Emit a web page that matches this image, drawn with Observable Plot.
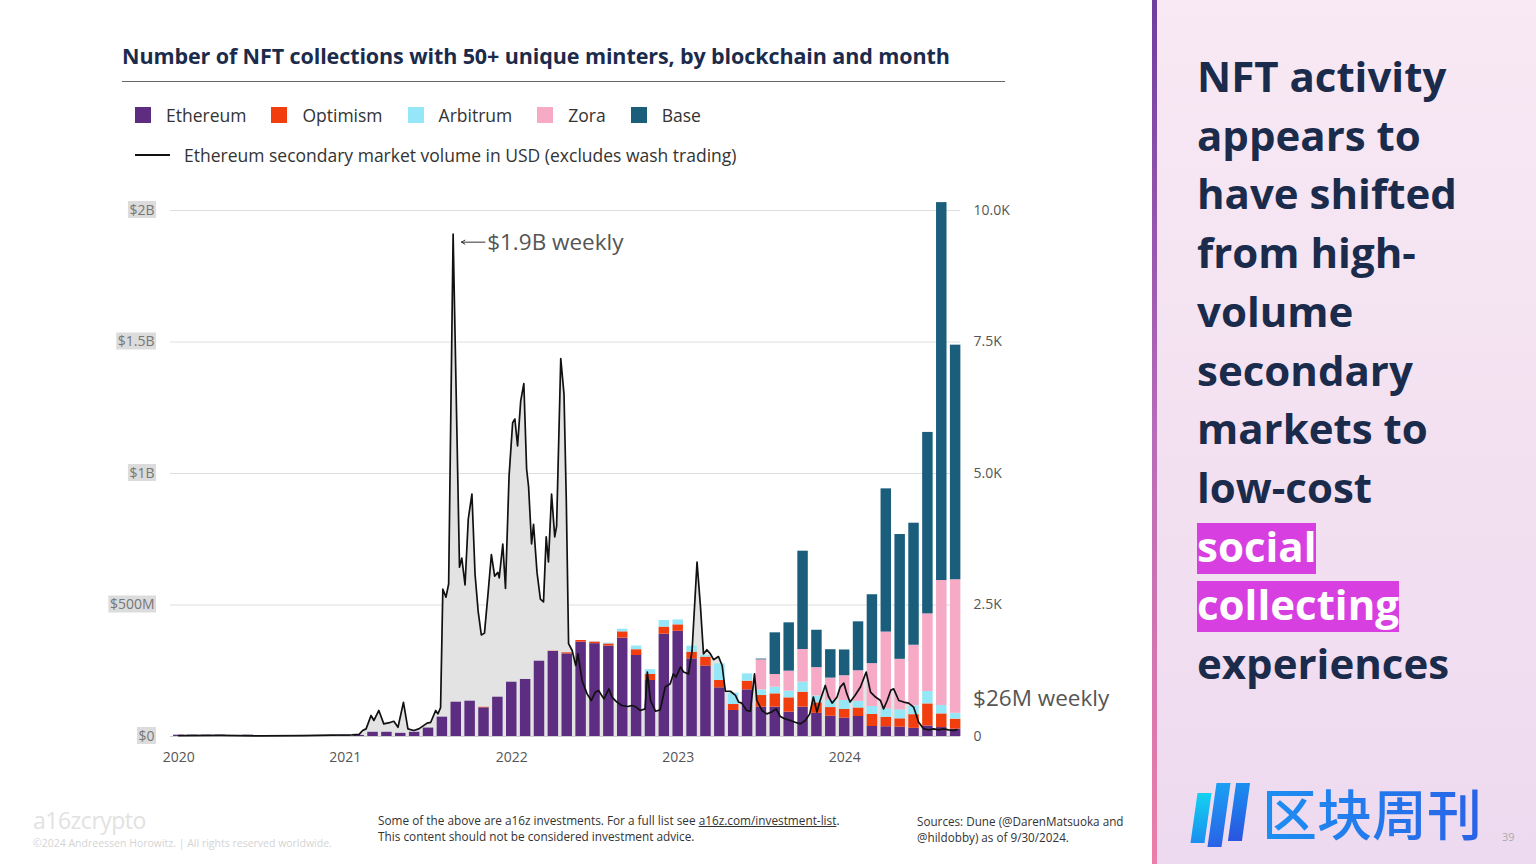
<!DOCTYPE html>
<html>
<head>
<meta charset="utf-8">
<script src="https://cdn.jsdelivr.net/npm/d3@7"></script>
<script src="https://cdn.jsdelivr.net/npm/@observablehq/plot@0.6"></script>
<style>
html,body{margin:0;padding:0;width:1536px;height:864px;overflow:hidden;background:#fff;font-family:"Open Sans",sans-serif;}
#page{position:relative;width:1536px;height:864px;}
#title{position:absolute;left:122px;top:41px;font-size:21.5px;font-weight:700;color:#1b2b4b;white-space:nowrap;letter-spacing:-0.1px;}
#rule{position:absolute;left:122px;top:81px;width:883px;height:1px;background:#666;}
#legend1{position:absolute;left:135px;top:103px;display:flex;align-items:center;font-size:17.5px;color:#333;white-space:nowrap;}
#legend1 .sw{width:16px;height:16px;margin-right:15px;}
#legend1 .lb{margin-right:25px;}
#legend2{position:absolute;left:135px;top:143px;display:flex;align-items:center;font-size:17.5px;color:#333;white-space:nowrap;}
#legend2 .ln{width:35px;height:2.5px;background:#111;margin-right:14px;}
#chart{position:absolute;left:90px;top:190px;}
#foot1{position:absolute;left:378px;top:812px;font-size:11.8px;line-height:16px;color:#333;}
#foot1 u{text-decoration:underline;}
#foot2{position:absolute;left:917px;top:813px;font-size:11.7px;line-height:16px;color:#333;}
#brand{position:absolute;left:33px;top:804px;font-size:23px;color:#e2e2e2;letter-spacing:-0.5px;}
#copy{position:absolute;left:33px;top:836px;font-size:10.5px;color:#d4d4d4;white-space:nowrap;}
#panel{position:absolute;left:1152px;top:0;width:384px;height:864px;background:linear-gradient(180deg,#f8e9f4 0%,#f3e1f1 50%,#eedaf0 100%);}
#edge{position:absolute;left:0;top:0;width:5px;height:864px;background:linear-gradient(180deg,#6e3e9e 0%,#b86bb8 50%,#ec7fa8 100%);}
#headline{position:absolute;left:45px;top:47px;font-size:42px;font-weight:700;line-height:58.7px;color:#1b2b4b;white-space:nowrap;}
#headline .hl{color:#fff;background:linear-gradient(180deg,transparent 6px,#d83fe0 6px);}
#logo{position:absolute;left:110px;top:780px;font-family:"Noto Sans CJK SC",sans-serif;font-size:55px;font-weight:500;line-height:62px;background:linear-gradient(90deg,#1c8ff2,#2a63e6);-webkit-background-clip:text;background-clip:text;color:transparent;white-space:nowrap;}
#icon{position:absolute;left:40px;top:783px;width:60px;height:64px;}
#icon div{position:absolute;top:0;height:64px;width:14px;transform:skewX(-8deg);}
#pnum{position:absolute;left:350px;top:829px;font-size:11px;color:#aaa;}
</style>
</head>
<body>
<div id="page">
  <div id="title">Number of NFT collections with 50+ unique minters, by blockchain and month</div>
  <div id="rule"></div>
  <div id="legend1"></div>
  <div id="legend2"><div class="ln"></div><span id="lineLabel"></span></div>
  <div id="chart"></div>
  <div id="brand">a16zcrypto</div>
  <div id="copy">©2024 Andreessen Horowitz. | All rights reserved worldwide.</div>
  <div id="foot1">Some of the above are a16z investments. For a full list see <u>a16z.com/investment-list</u>.<br>This content should not be considered investment advice.</div>
  <div id="foot2">Sources: Dune (@DarenMatsuoka and<br>@hildobby) as of 9/30/2024.</div>
  <div id="panel">
    <div id="edge"></div>
    <div id="headline">NFT activity<br>appears to<br>have shifted<br>from high-<br>volume<br>secondary<br>markets to<br>low-cost<br><span class="hl">social</span><br><span class="hl">collecting</span><br>experiences</div>
    <div id="icon">
      <div style="left:2px;background:linear-gradient(180deg,#14d2f0,#1a8ef0);height:50px;top:10px;"></div>
      <div style="left:20px;background:linear-gradient(180deg,#1aa0f4,#2a62e6);"></div>
      <div style="left:40px;background:linear-gradient(180deg,#1a8ef0,#2a55e0);height:58px;"></div>
    </div>
    <div id="logo">区块周刊</div>
    <div id="pnum">39</div>
  </div>
</div>
<script>
// ---------- DATA ----------
const chains = ["Ethereum", "Optimism", "Arbitrum", "Zora", "Base"];
const chainColors = ["#5c2d80", "#f23e0e", "#95e7f7", "#f6aac6", "#1b5e7c"];

// monthly counts, Jan 2020 .. Sep 2024
const ethereum = [25,25,25,25,0,25,0,0,0,20,20,20,
  20,20,80,80,60,80,160,367,652,671,545,747,
  1032,1084,1431,1616,1570,1793,1765,1720,1870,1540,1065,1945,
  2000,1476,1337,925,494,887,558,558,463,558,440,385,
  350,380,190,185,177,155,200,170,140];
const optimism = [0,0,0,0,0,0,0,0,0,0,0,0,
  0,0,0,0,0,0,0,0,0,0,10,0,
  0,0,0,5,20,32,30,40,120,110,115,135,
  123,127,171,140,114,165,221,253,272,285,200,165,
  165,162,230,180,159,260,420,260,190];
const arbitrum = [0,0,0,0,0,0,0,0,0,0,0,0,
  0,0,0,0,0,0,0,0,0,0,0,0,
  0,0,0,0,0,0,5,15,50,70,90,125,
  92,114,32,316,216,139,108,127,127,190,130,140,
  170,128,150,160,171,170,236,160,110];
const zora = [0,0,0,0,0,0,0,0,0,0,0,0,
  0,0,0,0,0,0,0,0,0,0,0,0,
  0,0,0,0,0,0,0,0,0,0,0,0,
  0,0,0,0,0,0,570,241,380,621,540,420,
  470,580,815,1460,960,1150,1475,2375,2540];
const base = [0,0,0,0,0,0,0,0,0,0,0,0,
  0,0,0,0,0,0,0,0,0,0,0,0,
  0,0,0,0,0,0,0,0,0,0,0,0,
  0,0,0,0,0,0,15,792,919,1869,710,540,
  490,930,1310,2723,2373,2320,3450,7185,4460];

// Ethereum secondary market volume (weekly, USD millions)
const volDates = ["2020-01-01","2020-04-01","2020-07-01","2020-10-01","2020-12-01","2021-01-16","2021-02-01",
 "2021-02-08","2021-02-15","2021-02-25","2021-03-03","2021-03-14","2021-03-25","2021-04-09","2021-04-16","2021-04-25",
 "2021-05-07","2021-05-17","2021-05-30","2021-06-10","2021-06-28","2021-07-06","2021-07-17","2021-07-22","2021-07-28",
 "2021-08-02","2021-08-09","2021-08-15","2021-08-25","2021-09-08","2021-09-13","2021-09-20","2021-09-27",
 "2021-10-05","2021-10-12","2021-10-19","2021-10-26","2021-11-02","2021-11-10","2021-11-17","2021-11-24",
 "2021-12-01","2021-12-04","2021-12-12","2021-12-18","2021-12-26","2022-01-03","2022-01-08","2022-01-14",
 "2022-01-21","2022-01-28","2022-02-03","2022-02-07","2022-02-13","2022-02-17","2022-02-24","2022-03-03",
 "2022-03-10","2022-03-16","2022-03-21","2022-03-28","2022-04-04","2022-04-08","2022-04-17","2022-04-24",
 "2022-04-29","2022-05-04","2022-05-12","2022-05-20","2022-05-25","2022-06-03","2022-06-14","2022-06-23",
 "2022-07-02","2022-07-09","2022-07-21","2022-08-01","2022-08-08","2022-08-19","2022-08-30","2022-09-12",
 "2022-09-21","2022-09-30","2022-10-09","2022-10-20","2022-10-25","2022-11-01","2022-11-12","2022-11-22",
 "2022-12-03","2022-12-14","2022-12-21","2022-12-27","2023-01-06","2023-01-13","2023-01-24","2023-02-01",
 "2023-02-11","2023-02-18","2023-02-24","2023-03-03","2023-03-11","2023-03-18","2023-03-29","2023-04-06",
 "2023-04-13","2023-04-24","2023-05-05","2023-05-12","2023-05-19","2023-05-30","2023-06-07","2023-06-16",
 "2023-06-21","2023-07-02","2023-07-13","2023-07-24","2023-08-03","2023-08-12","2023-08-23","2023-09-04",
 "2023-09-14","2023-09-25","2023-10-06","2023-10-16","2023-10-24","2023-11-01","2023-11-08","2023-11-19",
 "2023-11-26","2023-12-04","2023-12-15","2023-12-22","2023-12-30","2024-01-06","2024-01-13","2024-01-24",
 "2024-02-05","2024-02-17","2024-02-26","2024-03-08","2024-03-19","2024-03-26","2024-04-03","2024-04-11",
 "2024-04-17","2024-04-28","2024-05-09","2024-05-20","2024-05-31","2024-06-11","2024-06-22","2024-07-03",
 "2024-07-14","2024-07-25","2024-08-05","2024-08-16","2024-08-27","2024-09-04"];
const volUSDm = [3,4,2,3,5,6,8,
 23,29,80,61,99,48,54,58,35,
 130,29,23,29,51,54,99,86,110,
 560,530,580,1910,644,678,576,827,
 922,617,475,386,393,549,692,610,
 624,603,732,563,990,1193,1207,1105,
 1275,1342,1017,949,732,807,624,522,
 512,759,664,922,759,800,1437,1302,
 895,353,327,270,314,213,162,137,
 169,175,143,181,150,131,118,114,
 118,112,99,105,245,137,96,101,
 188,200,238,226,264,245,238,327,
 663,492,314,330,314,292,304,270,
 172,172,156,131,127,99,96,238,
 137,99,86,93,105,76,67,61,
 54,48,61,86,150,93,137,194,
 152,127,150,188,203,162,131,156,
 188,245,169,150,137,105,137,177,
 181,137,131,127,112,54,29,25,
 29,25,29,25,23,26];

const countTicks = [0, 2500, 5000, 7500, 10000];
const countTickLabels = ["0", "2.5K", "5.0K", "7.5K", "10.0K"];
const usdTickLabels = ["$0", "$500M", "$1B", "$1.5B", "$2B"];
const yearTicks = [0, 12, 24, 36, 48];
const yearLabels = ["2020", "2021", "2022", "2023", "2024"];
const lineLabel = "Ethereum secondary market volume in USD (excludes wash trading)";
const annotationLabels = ["$1.9B weekly", "$26M weekly"];
const usdAtTop = 2000; // $2B (millions) aligns with 10.0K

// ---------- BUILD ----------
const seriesByChain = [ethereum, optimism, arbitrum, zora, base];
const nMonths = ethereum.length;
const rows = [];
for (let i = 0; i < nMonths; i++) {
  let acc = 0;
  chains.forEach((c, k) => {
    const v = seriesByChain[k][i];
    rows.push({m: i, chain: c, y1: acc, y2: acc + v});
    acc += v;
  });
}
function monthIndex(s) {
  const [y, mo, d] = s.split("-").map(Number);
  const dim = new Date(Date.UTC(y, mo, 0)).getUTCDate();
  return (y - 2020) * 12 + (mo - 1) + (d - 1) / dim;
}
const toCount = usd => usd / usdAtTop * countTicks[countTicks.length - 1];
const vol = volDates.map((d, i) => ({m: monthIndex(d), c: toCount(volUSDm[i]), usd: volUSDm[i]}));
const peak = vol.reduce((a, b) => (b.usd > a.usd ? b : a));
const last = vol[vol.length - 1];

// legend
const leg = document.getElementById("legend1");
chains.forEach((c, k) => {
  const sw = document.createElement("div"); sw.className = "sw"; sw.style.background = chainColors[k];
  const lb = document.createElement("span"); lb.className = "lb"; lb.textContent = c;
  leg.appendChild(sw); leg.appendChild(lb);
});
document.getElementById("lineLabel").textContent = lineLabel;

const svg = Plot.plot({
  width: 1040,
  height: 590,
  marginLeft: 80,
  marginRight: 170,
  marginTop: 20,
  marginBottom: 44,
  style: {fontFamily: "'Open Sans', sans-serif", fontSize: "14px", color: "#666", background: "transparent", overflow: "visible"},
  x: {type: "linear", domain: [-0.6, 56.35], axis: null},
  y: {domain: [0, 10000], axis: null},
  color: {domain: chains, range: chainColors},
  marks: [
    Plot.ruleY(countTicks, {stroke: "#dedede", strokeWidth: 1}),
    Plot.areaY(vol, {x: "m", y: "c", fill: "#e3e3e3"}),
    Plot.rect(rows, {x1: d => d.m - 0.5, x2: d => d.m + 0.5, y1: "y1", y2: "y2", fill: "chain", insetLeft: 1.7, insetRight: 1.7}),
    Plot.ruleY([0], {stroke: "#cfcfcf"}),
    Plot.line(vol, {x: "m", y: "c", stroke: "#111", strokeWidth: 1.7}),
    Plot.arrow([peak], {x1: d => d.m + 2.3, x2: d => d.m + 0.6, y1: "c", y2: "c", dy: 8, stroke: "#333", strokeWidth: 1, headLength: 6, bend: 0}),
    Plot.text([peak], {x: "m", y: "c", text: () => annotationLabels[0], dx: 34, dy: 9, textAnchor: "start", fontSize: 22.5, fill: "#555", ariaLabel: "annotation"}),
    Plot.text([last], {x: "m", y: "c", text: () => annotationLabels[1], dx: 16, dy: -31, textAnchor: "start", fontSize: 22.5, fill: "#555", ariaLabel: "annotation"}),
    Plot.axisY(countTicks, {anchor: "left", tickSize: 0, tickPadding: 16, fontSize: 14, fill: "#777", tickFormat: d => usdTickLabels[countTicks.indexOf(d)], label: null}),
    Plot.axisY(countTicks, {anchor: "right", tickSize: 0, tickPadding: 13, fontSize: 14, fill: "#555", tickFormat: d => countTickLabels[countTicks.indexOf(d)], label: null}),
    Plot.axisX(yearTicks, {tickSize: 0, tickPadding: 16, fontSize: 14, fill: "#555", tickFormat: d => yearLabels[yearTicks.indexOf(d)], label: null})
  ]
});
document.getElementById("chart").appendChild(svg);

// grey highlight boxes behind left-axis labels and annotations
const NS = "http://www.w3.org/2000/svg";
function addBg(t, px, py, fill) {
  const b = t.getBBox();
  const r = document.createElementNS(NS, "rect");
  r.setAttribute("x", b.x - px); r.setAttribute("y", b.y - py);
  r.setAttribute("width", b.width + 2 * px); r.setAttribute("height", b.height + 2 * py);
  r.setAttribute("fill", fill);
  const tr = t.getAttribute("transform"); if (tr) r.setAttribute("transform", tr);
  t.parentNode.insertBefore(r, t);
}
const svgLeft = svg.getBoundingClientRect().left;
svg.querySelectorAll("text").forEach(t => {
  const g = t.closest("g");
  const lab = g ? g.getAttribute("aria-label") : "";
  if (lab === "annotation") addBg(t, 1, -1, "#ebebeb");
  else if (lab && lab.indexOf("y-axis") >= 0 && t.getBoundingClientRect().right < svgLeft + 80) addBg(t, 1.5, -1, "#dcdcdc");
});
</script>
</body>
</html>
